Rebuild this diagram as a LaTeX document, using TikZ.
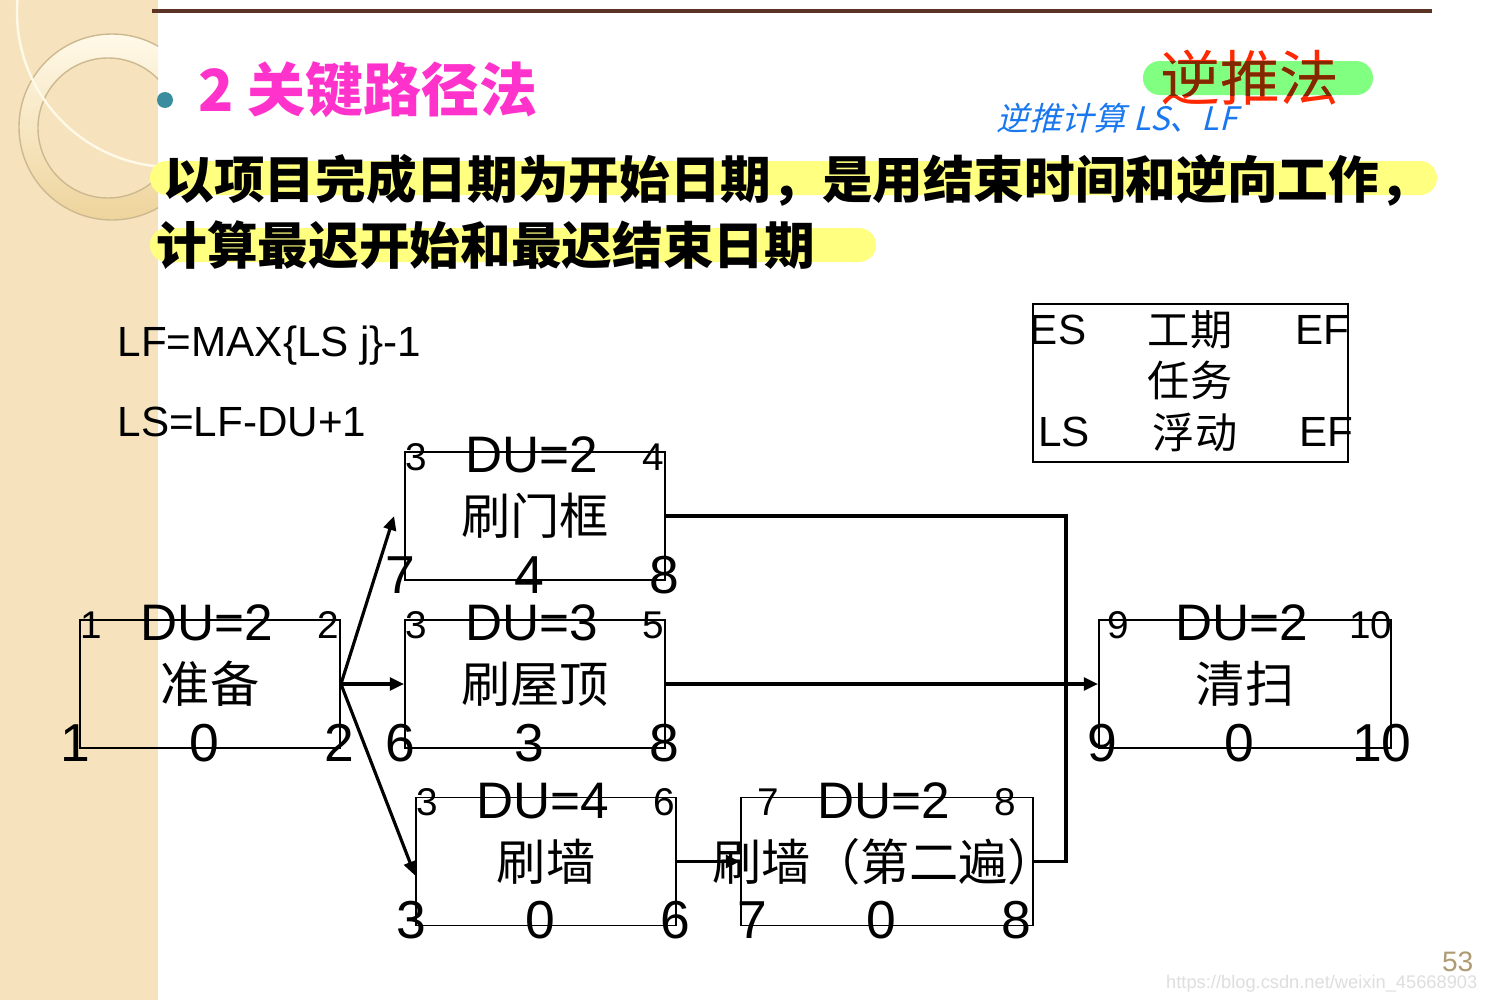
\documentclass[tikz,border=0pt]{standalone}
\usepackage{fontspec}
\setmainfont{Liberation Sans}
\newfontfamily\cjk{Noto Sans CJK SC}
\newfontfamily\cjkhand[FakeSlant=0.25]{Noto Sans CJK SC}
\usetikzlibrary{arrows.meta,positioning,calc}
\definecolor{stripbg}{RGB}{246,226,188}
\definecolor{ringhi}{RGB}{255,249,232}
\definecolor{ringlo}{RGB}{238,212,156}
\definecolor{ringline}{RGB}{205,185,145}
\definecolor{rulebrown}{RGB}{92,52,38}
\definecolor{bullteal}{RGB}{58,140,160}
\definecolor{titlepink}{RGB}{255,51,204}
\definecolor{hlyellow}{RGB}{255,255,128}
\definecolor{hlgreen}{RGB}{128,255,128}
\definecolor{backred}{RGB}{255,40,0}
\definecolor{backbrown}{RGB}{128,40,0}
\definecolor{handblue}{RGB}{25,120,240}
\definecolor{pagetan}{RGB}{175,155,115}

% corner numbers of one task box: [inset], name, ES, DU, EF, LS, float, LF
\newcommand{\boxnums}[8][0]{%
  \node[cornum] at ([shift={({12+#1},6)}]#2.north west) {#3};
  \node[dunum] at ([shift={(-3,4)}]#2.north) {DU=#4};
  \node[cornum] at ([shift={({-13-#1},6)}]#2.north east) {#5};
  \node[botnum] at ([shift={({-4+#1},-6)}]#2.south west) {#6};
  \node[botnum] at ([shift={(-6,-6)}]#2.south) {#7};
  \node[botnum] at ([shift={({-2-#1},-6)}]#2.south east) {#8};
}

\begin{document}
\begin{tikzpicture}[x=0.01cm,y=-0.01cm,
    taskbox/.style={draw, line width=0.5pt, inner sep=0pt, minimum height=1.28cm},
    tasktext/.style={inner sep=0pt, font=\cjk\fontsize{14}{15}\selectfont},
    cornum/.style={inner sep=0pt, font=\fontsize{11}{12}\selectfont},
    dunum/.style={inner sep=0pt, font=\fontsize{14.6}{15}\selectfont},
    botnum/.style={inner sep=0pt, font=\fontsize{15.2}{16}\selectfont},
    flow/.style={line width=0.9pt, -{Triangle[length=4pt,width=3.6pt]}},
    link/.style={line width=0.9pt},
    plain/.style={inner sep=0pt, font=\fontsize{12}{13}\selectfont},
    legcn/.style={inner sep=0pt, font=\cjk\fontsize{12}{13}\selectfont}]
  \useasboundingbox (0,0) rectangle (1487,1000);
  % page and left strip
  \fill[white] (0,0) rectangle (1487,1000);
  \fill[stripbg] (0,0) rectangle (158,1000);
  \begin{scope}
    \clip (0,0) rectangle (158,1000);
    \shade[even odd rule, top color=ringhi, bottom color=ringlo]
      (112,127) circle (93) (108,128) circle (70);
    \draw[ringline, line width=0.4pt] (112,127) circle (93) (108,128) circle (70);
    \draw[ringhi, line width=0.7pt] (172,12) circle (155);
  \end{scope}
  \draw[rulebrown, line width=0.9pt] (152,11) -- (1432,11);

  % title
  \fill[bullteal] (165,100) circle (8);
  \node[anchor=west, inner sep=0pt, titlepink, font=\cjk\bfseries\fontsize{16.5}{17}\selectfont]
    (title) at (198,90) {2 关键路径法};

  % highlighted sentence
  \fill[hlyellow, rounded corners=4.8pt] (150,161) rectangle (1437,195);
  \fill[hlyellow, rounded corners=4.8pt] (150,228) rectangle (876,262);
  \node[anchor=west, inner sep=0pt, font=\cjk\bfseries\fontsize{14.4}{15}\selectfont]
    (line1) at (163,180) {以项目完成日期为开始日期，是用结束时间和逆向工作，};
  \node[anchor=west, inner sep=0pt, font=\cjk\bfseries\fontsize{14.4}{15}\selectfont]
    (line2) at (156,245) {计算最迟开始和最迟结束日期};

  % backward pass note, darker where the green marker covers it
  \fill[hlgreen, rounded corners=4.8pt] (1143,61) rectangle (1373,95);
  \node[inner sep=0pt, backred, font=\cjk\fontsize{17}{18}\selectfont] (back) at (1250,78) {逆推法};
  \begin{scope}
    \clip[rounded corners=4.8pt] (1143,61) rectangle (1373,95);
    \node[inner sep=0pt, backbrown, font=\cjk\fontsize{17}{18}\selectfont] at (back) {逆推法};
  \end{scope}
  \node[inner sep=0pt, handblue, font=\cjkhand\fontsize{9.2}{10}\selectfont] (hand) at (1117,118) {逆推计算 LS、LF};

  % formulas
  \node[plain, anchor=west] (lf) at (117,346) {LF=MAX\{LS j\}-1};
  \node[plain, anchor=west] (ls) at (117,422) {LS=LF-DU+1};

  % legend
  \node[draw, line width=0.5pt, minimum width=3.15cm, minimum height=1.58cm] (legend) at (1190.5,383) {};
  \node[plain] at (1058,330) {ES};
  \node[legcn] at (1190,330) {工期};
  \node[plain] at (1322,330) {EF};
  \node[legcn] at (1190,380) {任务};
  \node[plain] at (1064,432) {LS};
  \node[legcn] at (1195,432) {浮动};
  \node[plain] at (1326,432) {EF};

  % task boxes
  \node[taskbox, minimum width=2.6cm, label={[tasktext]center:准备}] (prep) at (210,684) {};
  \node[taskbox, minimum width=2.6cm, label={[tasktext]center:刷门框}] (door) at (535,516) {};
  \node[taskbox, minimum width=2.6cm, label={[tasktext]center:刷屋顶}] (roof) at (535,684) {};
  \node[taskbox, minimum width=2.6cm, label={[tasktext]center:刷墙}] (wall) at (546,861.5) {};
  \node[taskbox, minimum width=2.92cm, label={[tasktext, xshift=-0.6pt]center:刷墙（第二遍）}] (wall2) at (887,861.5) {};
  \node[taskbox, minimum width=2.92cm, label={[tasktext]center:清扫}] (clean) at (1245,684) {};
  \boxnums{prep}{1}{2}{2}{1}{0}{2}
  \boxnums{door}{3}{2}{4}{7}{4}{8}
  \boxnums{roof}{3}{3}{5}{6}{3}{8}
  \boxnums{wall}{3}{4}{6}{3}{0}{6}
  \boxnums[16]{wall2}{7}{2}{8}{7}{0}{8}
  \boxnums[8]{clean}{9}{2}{10}{9}{0}{10}

  % connectors
  \coordinate (join) at (1066,684);
  \draw[flow] (prep.east) -- ([shift={(-10,0)}]door.west);
  \draw[flow] (prep.east) -- (roof.west);
  \draw[flow] (prep.east) -- ([shift={(0,14)}]wall.west);
  \draw[flow] (wall.east) -- (wall2.west);
  \draw[flow] (roof.east) -- (clean.west);
  \draw[link] (door.east) -- (door.east -| join) -- (wall2.east -| join) -- (wall2.east);

  % page number
  \node[anchor=east, inner sep=0pt, pagetan, font=\fontsize{8}{9}\selectfont] (page) at (1474,962) {53};
  \node[anchor=east, inner sep=0pt, black!13, font=\fontsize{5.2}{6}\selectfont] (mark) at (1478,984) {https://blog.csdn.net/weixin\_45668903};
\end{tikzpicture}
\end{document}
